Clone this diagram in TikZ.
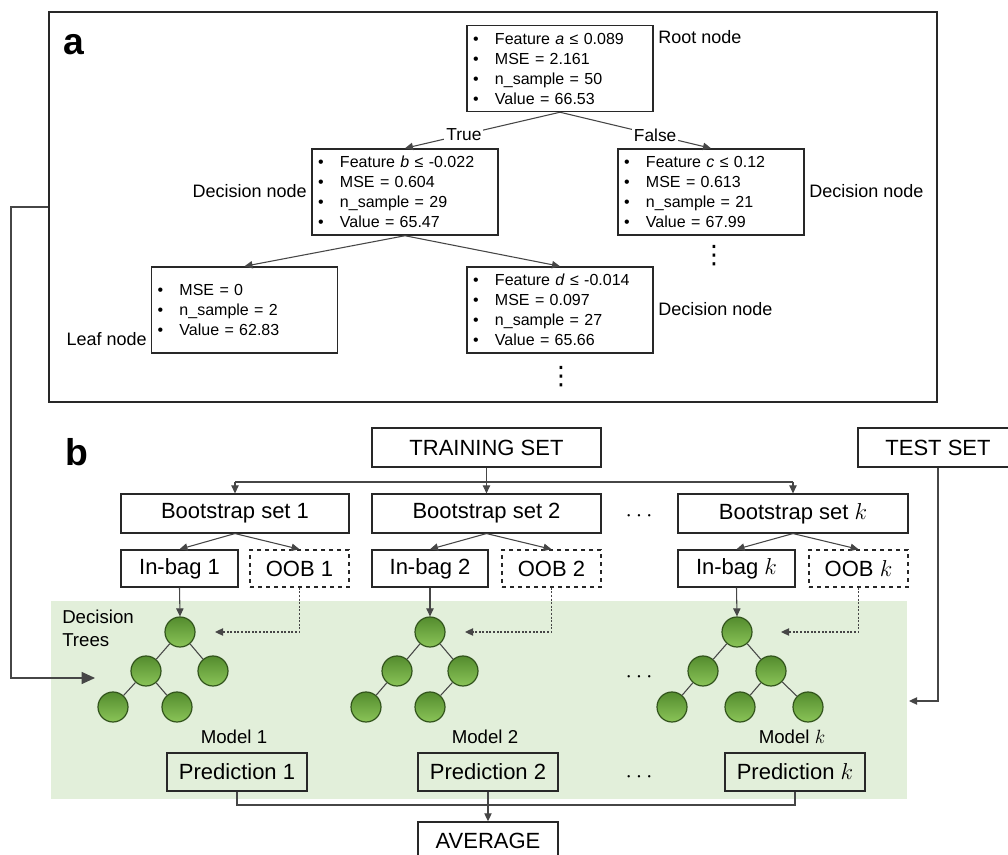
\documentclass[tikz,border=0pt]{standalone}
\usepackage{fontspec}
\setmainfont{Liberation Sans}
\newfontfamily\dejavu{DejaVu Sans}
\usetikzlibrary{arrows.meta}
\definecolor{bgg}{RGB}{226,239,218}
\definecolor{lc}{RGB}{70,70,70}
\definecolor{bc}{RGB}{40,40,40}
\definecolor{gdark}{RGB}{50,84,28}
\definecolor{gtop}{RGB}{84,140,46}
\definecolor{gbot}{RGB}{138,196,88}
\newcommand\itm{\makebox[16.5pt][l]{\textbullet}}
\begin{document}
\begin{tikzpicture}[x=0.75pt,y=-0.75pt,
  abox/.style={draw=bc, line width=1.1pt, inner xsep=4.5pt, inner ysep=0pt, text width=130.5pt, minimum height=64.5pt, align=left, font=\fontsize{12}{15}\selectfont},
  alab/.style={inner sep=0pt, font=\fontsize{13.5}{16}\selectfont},
  bbox/.style={draw=bc, line width=1.1pt, minimum height=29pt, inner sep=0pt, font=\fontsize{16.5}{19}\selectfont},
  dbox/.style={bbox, dashed},
  mlab/.style={inner sep=0pt, font=\fontsize{14}{17}\selectfont},
  tn/.style={circle, draw=gdark, line width=0.9pt, top color=gtop, bottom color=gbot, minimum size=22.5pt, inner sep=0pt},
  ln/.style={draw=lc, line width=0.8pt},
  arr/.style={ln, -{Triangle[length=6pt,width=5.5pt]}},
  dotarr/.style={ln, dash pattern=on 1.5pt off 1.2pt, -{Triangle[length=6pt,width=5.5pt]}},
  tedge/.style={draw=lc, line width=0.8pt},
  dd/.style={inner sep=0pt, font=\fontsize{16}{16}\selectfont},
  vdd/.style={inner sep=0pt, font=\dejavu\fontsize{19}{20}\selectfont}
]
\clip (0,0) rectangle (1008,855);
\fill[white] (0,0) rectangle (1008,855);

% ---------- panel a ----------
\node[draw=bc, line width=1.1pt, minimum width=666pt, minimum height=292.5pt, inner sep=0pt] (frameA) at (493,207) {};
\node[inner sep=0pt, font=\fontsize{28}{30}\selectfont\bfseries] (la) at (74,45) {a};

\node[abox] (root) at (560,68.5) {\itm Feature \textit{a} ≤ 0.089\\\itm MSE = 2.161\\\itm n\_sample = 50\\\itm Value = 66.53};
\node[abox] (db) at (405,192) {\itm Feature \textit{b} ≤ -0.022\\\itm MSE = 0.604\\\itm n\_sample = 29\\\itm Value = 65.47};
\node[abox] (dc) at (711,192) {\itm Feature \textit{c} ≤ 0.12\\\itm MSE = 0.613\\\itm n\_sample = 21\\\itm Value = 67.99};
\node[abox] (leaf) at (244.5,310) {\itm MSE = 0\\\itm n\_sample = 2\\\itm Value = 62.83};
\node[abox] (dd) at (560,310) {\itm Feature \textit{d} ≤ -0.014\\\itm MSE = 0.097\\\itm n\_sample = 27\\\itm Value = 65.66};

\node[alab, anchor=west] (lroot) at (658,37) {Root node};
\node[alab, anchor=east] (ldb) at (307,191) {Decision node};
\node[alab, anchor=west] (ldc) at (809,191) {Decision node};
\node[alab, anchor=east] (lleaf) at (147,339) {Leaf node};
\node[alab, anchor=west] (ldd) at (658,309) {Decision node};

\node[vdd] (vd1) at (714,256) {⋮};
\node[vdd] (vd2) at (561,377) {⋮};

\draw[arr] (root.south) -- node[pos=0.62, fill=white, inner sep=1.5pt, font=\fontsize{13}{15}\selectfont] {True} (db.north);
\draw[arr] (root.south) -- node[pos=0.63, fill=white, inner sep=1.5pt, font=\fontsize{13}{15}\selectfont] {False} (dc.north);
\draw[arr] (db.south) -- (leaf.north);
\draw[arr] (db.south) -- (dd.north);

% ---------- panel b ----------
\node[fill=bgg, minimum width=642pt, minimum height=148.5pt, inner sep=0pt] (bg) at (479,700) {};
\node[inner sep=0pt, font=\fontsize{28}{30}\selectfont\bfseries] (lb) at (77,452) {b};

\node[bbox, minimum width=171.75pt] (train) at (486.5,447.5) {TRAINING SET};
\node[bbox, minimum width=120pt] (test) at (938,447.5) {TEST SET};

\node[bbox, minimum width=171pt] (bs1) at (235,513.5) {Bootstrap set 1};
\node[bbox, minimum width=171.75pt] (bs2) at (486.5,513.5) {Bootstrap set 2};
\node[bbox, minimum width=172.5pt] (bsk) at (793,513.5) {Bootstrap set $k$};
\node[dd] (hd1) at (639,516) {$\cdots$};

\node[bbox, minimum width=87.75pt, minimum height=27.75pt] (ib1) at (179.5,568.5) {In-bag 1};
\node[dbox, minimum width=74.25pt, minimum height=27.75pt] (oob1) at (299.5,568.5) {OOB 1};
\node[bbox, minimum width=87pt, minimum height=27.75pt] (ib2) at (430,568.5) {In-bag 2};
\node[dbox, minimum width=74.25pt, minimum height=27.75pt] (oob2) at (551.5,568.5) {OOB 2};
\node[bbox, minimum width=87.75pt, minimum height=27.75pt] (ibk) at (736.5,568.5) {In-bag $k$};
\node[dbox, minimum width=74.25pt, minimum height=27.75pt] (oobk) at (858.5,568.5) {OOB $k$};

\node[mlab, align=left, anchor=west, font=\fontsize{14}{17}\selectfont] (dtl) at (62,628.5) {Decision\\Trees};

% trees
\node[tn] (t1a) at (180,632) {};
\node[tn] (t1b) at (146,671) {};
\node[tn] (t1c) at (213,671) {};
\node[tn] (t1d) at (113,707) {};
\node[tn] (t1e) at (177,707) {};
\draw[tedge] (t1a) -- (t1b); \draw[tedge] (t1a) -- (t1c);
\draw[tedge] (t1b) -- (t1d); \draw[tedge] (t1b) -- (t1e);

\node[tn] (t2a) at (430,632) {};
\node[tn] (t2b) at (397,671) {};
\node[tn] (t2c) at (463,671) {};
\node[tn] (t2d) at (366,707) {};
\node[tn] (t2e) at (430,707) {};
\draw[tedge] (t2a) -- (t2b); \draw[tedge] (t2a) -- (t2c);
\draw[tedge] (t2b) -- (t2d); \draw[tedge] (t2c) -- (t2e);

\node[tn] (tka) at (737,632) {};
\node[tn] (tkb) at (703,671) {};
\node[tn] (tkc) at (771,671) {};
\node[tn] (tkd) at (672,707) {};
\node[tn] (tke) at (740,707) {};
\node[tn] (tkf) at (808,707) {};
\draw[tedge] (tka) -- (tkb); \draw[tedge] (tka) -- (tkc);
\draw[tedge] (tkb) -- (tkd); \draw[tedge] (tkc) -- (tke); \draw[tedge] (tkc) -- (tkf);

\node[dd] (hd2) at (639,677) {$\cdots$};

\node[mlab] (m1) at (234,737) {Model 1};
\node[mlab] (m2) at (485,737) {Model 2};
\node[mlab] (mk) at (792,737) {Model $k$};

\node[bbox, minimum width=105pt, minimum height=28.5pt] (p1) at (237,772) {Prediction 1};
\node[bbox, minimum width=105pt, minimum height=28.5pt] (p2) at (488,772) {Prediction 2};
\node[bbox, minimum width=105pt, minimum height=28.5pt] (pk) at (795,772) {Prediction $k$};
\node[dd] (hd3) at (639,777) {$\cdots$};

\node[bbox, minimum width=105pt, minimum height=28.5pt] (avg) at (488,841) {AVERAGE};

% connectors panel b
\coordinate (hy) at (0,482);
\draw[arr] (train.south) -- (bs2.north);
\draw[ln] (bs1.north |- hy) -- (bsk.north |- hy);
\draw[arr] (bs1.north |- hy) -- (bs1.north);
\draw[arr] (bsk.north |- hy) -- (bsk.north);

\draw[arr] (bs1.south) -- (ib1.north);
\draw[arr] (bs1.south) -- (oob1.north);
\draw[arr] (bs2.south) -- (ib2.north);
\draw[arr] (bs2.south) -- (oob2.north);
\draw[arr] (bsk.south) -- (ibk.north);
\draw[arr] (bsk.south) -- (oobk.north);

\draw[arr] (ib1.south) -- (t1a.north);
\draw[arr] (ib2.south) -- (t2a.north);
\draw[arr] (ibk.south) -- (tka.north);

\coordinate (o1in) at (215,632);
\coordinate (o2in) at (465,632);
\coordinate (okin) at (781,632);
\draw[dotarr] (oob1.south) |- (o1in);
\draw[dotarr] (oob2.south) |- (o2in);
\draw[dotarr] (oobk.south) |- (okin);

\coordinate (py) at (0,805);
\draw[ln] (p1.south) -- (p1.south |- py) -- (pk.south |- py) -- (pk.south);
\draw[arr] (p2.south) -- (avg.north);

\coordinate (tin) at (909,701);
\draw[arr] (test.south) |- (tin);

\coordinate (lcorner) at (11,207);
\coordinate (t1in) at (95,678);
\draw[ln, -{Triangle[length=10pt,width=9pt]}] (frameA.west) -- (lcorner) |- (t1in);
\end{tikzpicture}
\end{document}
